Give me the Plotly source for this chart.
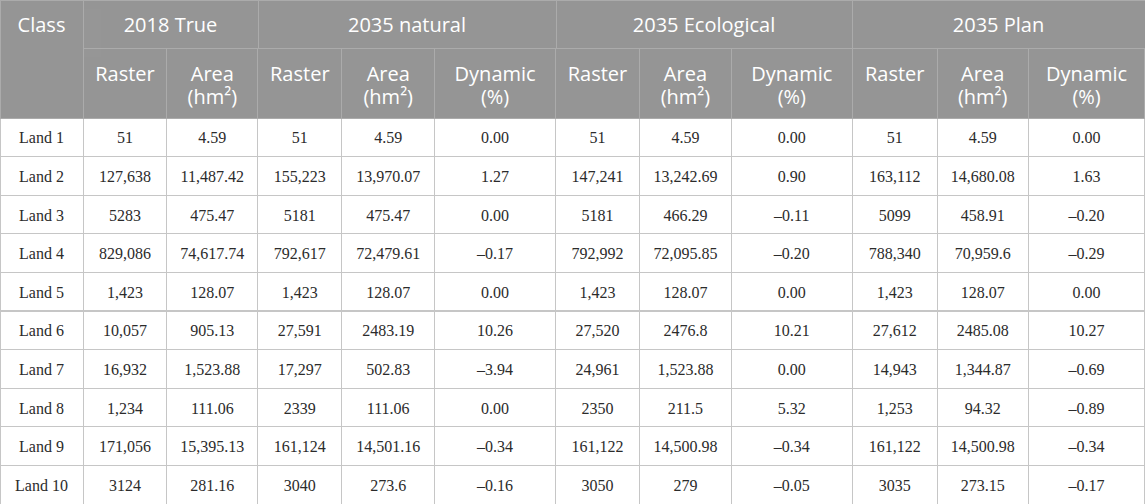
import plotly.graph_objects as go

# Table data
classes = ["Land 1", "Land 2", "Land 3", "Land 4", "Land 5",
           "Land 6", "Land 7", "Land 8", "Land 9", "Land 10"]

groups = ["2018 True", "2035 natural", "2035 Ecological", "2035 Plan"]
sub_line1 = ["Raster", "Area",
             "Raster", "Area", "Dynamic",
             "Raster", "Area", "Dynamic",
             "Raster", "Area", "Dynamic"]
sub_line2 = ["", "(hm²)",
             "", "(hm²)", "(%)",
             "", "(hm²)", "(%)",
             "", "(hm²)", "(%)"]

raster_2018 = ["51", "127,638", "5283", "829,086", "1,423",
               "10,057", "16,932", "1,234", "171,056", "3124"]
area_2018 = ["4.59", "11,487.42", "475.47", "74,617.74", "128.07",
             "905.13", "1,523.88", "111.06", "15,395.13", "281.16"]

raster_nat = ["51", "155,223", "5181", "792,617", "1,423",
              "27,591", "17,297", "2339", "161,124", "3040"]
area_nat = ["4.59", "13,970.07", "475.47", "72,479.61", "128.07",
            "2483.19", "502.83", "111.06", "14,501.16", "273.6"]
dyn_nat = ["0.00", "1.27", "0.00", "–0.17", "0.00",
           "10.26", "–3.94", "0.00", "–0.34", "–0.16"]

raster_eco = ["51", "147,241", "5181", "792,992", "1,423",
              "27,520", "24,961", "2350", "161,122", "3050"]
area_eco = ["4.59", "13,242.69", "466.29", "72,095.85", "128.07",
            "2476.8", "1,523.88", "211.5", "14,500.98", "279"]
dyn_eco = ["0.00", "0.90", "–0.11", "–0.20", "0.00",
           "10.21", "0.00", "5.32", "–0.34", "–0.05"]

raster_plan = ["51", "163,112", "5099", "788,340", "1,423",
               "27,612", "14,943", "1,253", "161,122", "3035"]
area_plan = ["4.59", "14,680.08", "458.91", "70,959.6", "128.07",
             "2485.08", "1,344.87", "94.32", "14,500.98", "273.15"]
dyn_plan = ["0.00", "1.63", "–0.20", "–0.29", "0.00",
            "10.27", "–0.69", "–0.89", "–0.34", "–0.17"]

columns = [classes, raster_2018, area_2018,
           raster_nat, area_nat, dyn_nat,
           raster_eco, area_eco, dyn_eco,
           raster_plan, area_plan, dyn_plan]

W, H = 1145, 504
class_w = 83
top_h = 48
sub_h = 70
head_h = top_h + sub_h
row_h = 38.6
text_dy = 5.3
group_w = [175, 298, 296, 293]
col_w = [84, 91, 84, 93, 121, 84, 92, 121, 85, 91, 117]
n_rows = len(classes)

head_fill = "#959595"
head_line = "#ababab"
cell_line = "#c6c6c6"
clear = "rgba(0,0,0,0)"
no_line = dict(color=clear, width=0)
head_font = dict(family="Open Sans", size=20, color="white")
cell_font = dict(family="Liberation Serif", size=16, color="#2b2b2b")


def band(top, height):
    return [max(0, 1 - (top + height) / H), 1 - top / H]


fig = go.Figure()

# grid: Class column (header spans both header rows)
fig.add_trace(go.Table(
    domain=dict(x=[0, class_w / W], y=[0, 1]),
    header=dict(values=[""], fill_color=head_fill, line_color=head_line,
                height=head_h),
    cells=dict(values=[[""] * n_rows], fill_color="white",
               line_color=cell_line, height=row_h),
))

# grid: group header row
fig.add_trace(go.Table(
    domain=dict(x=[class_w / W, 1], y=band(0, top_h)),
    columnwidth=group_w,
    header=dict(values=[""] * 4, fill_color=head_fill, line_color=head_line,
                height=top_h),
    cells=dict(values=[[], [], [], []], height=1),
))

# grid: sub header row + body
fig.add_trace(go.Table(
    domain=dict(x=[class_w / W, 1], y=[0, 1 - top_h / H]),
    columnwidth=col_w,
    header=dict(values=[""] * 11, fill_color=head_fill, line_color=head_line,
                height=sub_h),
    cells=dict(values=[[""] * n_rows] * 11, fill_color="white",
               line_color=cell_line, height=row_h),
))


# header text layers
def head_text(x, top, widths, vals):
    fig.add_trace(go.Table(
        domain=dict(x=x, y=band(top, 48)),
        columnwidth=widths,
        header=dict(values=vals, fill_color=clear, line=no_line,
                    font=head_font, height=48, align="center"),
        cells=dict(values=[[] for _ in vals], height=1),
    ))


head_text([0, class_w / W], 9, [1], ["Class"])
head_text([class_w / W, 1], 9, group_w, groups)
head_text([class_w / W, 1], 58, col_w, sub_line1)
head_text([class_w / W, 1], 81, col_w, sub_line2)


# body text layers: an empty clear header pushes the rows down,
# the last row gets its own layer so nothing spills past the bottom
def body_text(top, height, rows):
    fig.add_trace(go.Table(
        domain=dict(x=[0, 1], y=[0, 1]),
        columnwidth=[class_w] + col_w,
        header=dict(values=[""] * len(columns), fill_color=clear,
                    line=no_line, height=top),
        cells=dict(values=[[c[i] for i in rows] for c in columns],
                   fill_color=clear, line=no_line,
                   font=cell_font, height=height, align="center"),
    ))


body_top = head_h + text_dy
body_text(body_top, row_h, list(range(n_rows - 1)))
last_top = body_top + row_h * (n_rows - 1)
body_text(last_top, H - last_top, [n_rows - 1])

fig.update_layout(width=W, height=H, margin=dict(l=0, r=0, t=0, b=0),
                  paper_bgcolor="white")

fig.write_html("out.html", config={"displayModeBar": False},
               post_script="document.body.style.margin='0px';")
